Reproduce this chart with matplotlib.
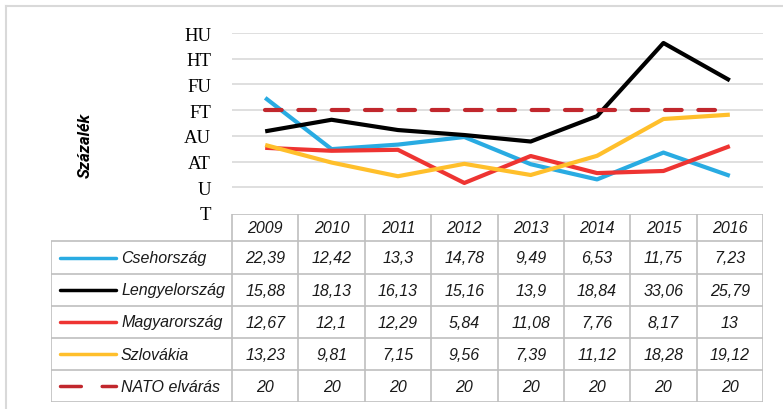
import matplotlib.pyplot as plt
from matplotlib.lines import Line2D

years = ['2009', '2010', '2011', '2012', '2013', '2014', '2015', '2016']
names = ['Csehország', 'Lengyelország', 'Magyarország', 'Szlovákia', 'NATO elvárás']
cseh = [22.39, 12.42, 13.3, 14.78, 9.49, 6.53, 11.75, 7.23]
lengyel = [15.88, 18.13, 16.13, 15.16, 13.9, 18.84, 33.06, 25.79]
magyar = [12.67, 12.1, 12.29, 5.84, 11.08, 7.76, 8.17, 13]
szlovak = [13.23, 9.81, 7.15, 9.56, 7.39, 11.12, 18.28, 19.12]
nato = [20, 20, 20, 20, 20, 20, 20, 20]
ytick_vals = [0, 5, 10, 15, 20, 25, 30, 35]
ytick_labels = ['T', 'U', 'AT', 'AU', 'FT', 'FU', 'HT', 'HU']

series = [cseh, lengyel, magyar, szlovak, nato]
colors = ['#29ABE2', '#000000', '#EE3432', '#FFBF2B', '#C1272D']
styles = ['-', '-', '-', '-', '--']

W, H = 783, 410
fig = plt.figure(figsize=(W / 100, H / 100), dpi=100)

def box(x0, y0, x1, y1):
    # pixel box (top-left origin) -> figure fraction
    return [x0 / W, 1 - y1 / H, (x1 - x0) / W, (y1 - y0) / H]

# outer frame
fig.add_artist(Line2D([6 / W, 6 / W], [0, 1 - 7 / H], transform=fig.transFigure, color='#D9D9D9', lw=1.5))
fig.add_artist(Line2D([6 / W, 1], [1 - 7 / H, 1 - 7 / H], transform=fig.transFigure, color='#D9D9D9', lw=1.5))

left, right, top, zero = 232, 763, 34, 214
ax = fig.add_axes(box(left, top, right, zero))
x = range(len(years))
for vals, c, ls in zip(series, colors, styles):
    if ls == '--':
        ax.plot(x, vals, color=c, lw=3, linestyle=(0, (4, 4)), dash_capstyle='round', zorder=5)
    else:
        ax.plot(x, vals, color=c, lw=3, solid_capstyle='butt', zorder=4)
ax.set_xlim(-0.5, len(years) - 0.5)
ax.set_ylim(0, 35)
ax.set_yticks(ytick_vals)
ax.set_yticklabels(ytick_labels, family='Liberation Serif', fontsize=13.5)
ax.tick_params(axis='y', length=0, pad=15)
ax.set_xticks([])
for v in ytick_vals[1:]:
    ax.axhline(v, color='#D9D9D9', lw=1.2, zorder=1)
for s in ax.spines.values():
    s.set_visible(False)
ax.patch.set_alpha(0)

fig.text(85 / W, 1 - 145 / H, 'Százalék', rotation=90, ha='center', va='center',
         family='Roboto', fontweight='bold', style='italic', fontsize=12)

# data table with legend keys
tleft, tbot = 51, 403
rows_y = [215, 242, 275, 307, 339, 371, 403]
tax = fig.add_axes(box(tleft, rows_y[0], right, tbot))
tax.set_xlim(tleft, right)
tax.set_ylim(tbot, rows_y[0])
tax.axis('off')
colw = (right - left) / len(years)
grid = dict(color='#BFBFBF', lw=1.2, solid_capstyle='butt')
tfont = dict(family='Liberation Sans', style='italic', fontsize=11.5, color='#1a1a1a')

tax.plot([left, right], [rows_y[0], rows_y[0]], **grid)
for y in rows_y[1:]:
    tax.plot([tleft, right], [y, y], **grid)
tax.plot([tleft, tleft], [rows_y[1], tbot], **grid)
for i in range(len(years) + 1):
    xx = left + i * colw
    tax.plot([xx, xx], [rows_y[0], tbot], **grid)

for i, yr in enumerate(years):
    tax.text(left + (i + 0.5) * colw, (rows_y[0] + rows_y[1]) / 2, yr, ha='center', va='center', **tfont)

for r, (name, vals, c, ls) in enumerate(zip(names, series, colors, styles)):
    yc = (rows_y[r + 1] + rows_y[r + 2]) / 2
    if ls == '--':
        tax.plot([60, 116], [yc, yc], color=c, lw=2.5, linestyle=(0, (6, 6)), dash_capstyle='round')
    else:
        tax.plot([60, 116], [yc, yc], color=c, lw=2.5, solid_capstyle='round')
    tax.text(121, yc, name, ha='left', va='center', **tfont)
    for i, v in enumerate(vals):
        txt = ('%g' % v).replace('.', ',')
        tax.text(left + (i + 0.5) * colw, yc, txt, ha='center', va='center', **tfont)

fig.savefig('out.png', dpi=100)
